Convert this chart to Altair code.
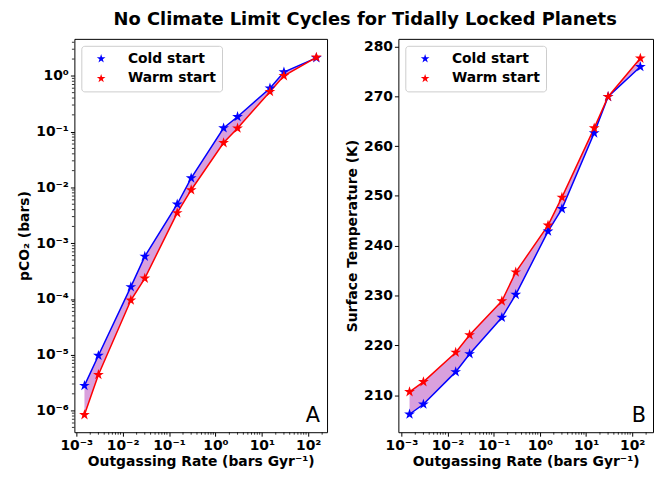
import altair as alt
import pandas as pd

# ---- data ----
rate = [0.0015, 0.003, 0.015, 0.03, 0.15, 0.3, 1.5, 3, 15, 30, 150]
pco2_cold = [2.8e-6, 9.7e-6, 1.65e-4, 5.8e-4, 5.0e-3, 1.47e-2, 0.116, 0.185, 0.60, 1.17, 2.1]
pco2_warm = [8.4e-7, 4.4e-6, 9.5e-5, 2.35e-4, 3.5e-3, 9.0e-3, 0.063, 0.115, 0.52, 1.0, 2.15]
temp_cold = [206.2, 208.2, 214.7, 218.3, 225.6, 230.2, 242.9, 247.4, 262.6, 269.9, 275.9]
temp_warm = [210.7, 212.7, 218.6, 222.1, 228.9, 234.7, 244.1, 249.7, 263.6, 269.9, 277.6]
series_names = ["Cold start", "Warm start"]
series_colors = ["#0000ff", "#ff0000"]

x_ticks = [1e-3, 1e-2, 1e-1, 1e0, 1e1, 1e2]
x_minor = [m * 10.0 ** k for k in range(-3, 3) for m in range(2, 10)]
y_ticks_log = [1e-6, 1e-5, 1e-4, 1e-3, 1e-2, 1e-1, 1e0]
y_minor_log = [m * 10.0 ** k for k in range(-7, 1) for m in range(2, 10)]
t_ticks = [210, 220, 230, 240, 250, 260, 270, 280]

STAR = ("M0,-1L0.2245,-0.309L0.951,-0.309L0.3633,0.118L0.588,0.809L0,0.382"
        "L-0.588,0.809L-0.3633,0.118L-0.951,-0.309L-0.2245,-0.309Z")
SUP = {-6: "⁻⁶", -5: "⁻⁵", -4: "⁻⁴", -3: "⁻³", -2: "⁻²", -1: "⁻¹", 0: "⁰", 1: "¹", 2: "²"}


def pow_expr():
    parts = []
    for e in [-6, -5, -4, -3, -2, -1, 0, 1]:
        thr = "%.6g" % (10.0 ** (e + 0.5))
        parts.append(f"datum.value < {thr} ? '10{SUP[e]}'")
    return " : ".join(parts) + " : '10²'"


LABEL_EXPR = pow_expr()
FRAME_W_L, FRAME_W_R, FRAME_H = 255, 257, 397
FILL = "#d9a0dd"


def panel(cold, warm, xdom, ydom, ytype, yaxis, yminor, letter, width):
    wide = pd.DataFrame({"x": rate, "cold": cold, "warm": warm})
    long = pd.DataFrame({
        "x": rate + rate,
        "y": list(cold) + list(warm),
        "series": [series_names[0]] * len(rate) + [series_names[1]] * len(rate),
    })
    xs = alt.Scale(type="log", domain=xdom, nice=False)
    if ytype == "log":
        ys = alt.Scale(type="log", domain=ydom, nice=False)
    else:
        ys = alt.Scale(type="linear", domain=ydom, nice=False, zero=False)
    area = alt.Chart(wide).mark_area(color=FILL, opacity=1).encode(
        x=alt.X("x:Q", scale=xs, axis=alt.Axis(
            values=x_ticks, labelExpr=LABEL_EXPR, orient="bottom",
            title="Outgassing Rate (bars Gyr⁻¹)", titlePadding=3, labelPadding=2)),
        y=alt.Y("cold:Q", scale=ys, axis=yaxis),
        y2="warm:Q",
    )
    cscale = alt.Scale(domain=series_names, range=series_colors)
    lines = alt.Chart(long).mark_line(strokeWidth=1.5).encode(
        x=alt.X("x:Q"),
        y=alt.Y("y:Q"),
        color=alt.Color("series:N", scale=cscale,
                        legend=alt.Legend(title=None, orient="top-left", symbolType=STAR,
                                          symbolStrokeWidth=0)),
        detail="series:N",
    )
    pts = alt.Chart(long).mark_point(shape=STAR, filled=True, size=130, opacity=1).encode(
        x=alt.X("x:Q"),
        y=alt.Y("y:Q"),
        color=alt.Color("series:N"),
    )
    mx = alt.Chart(pd.DataFrame({"m": [v for v in x_minor if xdom[0] <= v <= xdom[1]]})).mark_rule(
        color="black", strokeWidth=0.8).encode(
        x=alt.X("m:Q"), y=alt.value(FRAME_H), y2=alt.value(FRAME_H + 2.5))
    layers = [area, lines, pts, mx]
    if yminor is not None:
        my = alt.Chart(pd.DataFrame({"m": [v for v in yminor if ydom[0] <= v <= ydom[1]]})).mark_rule(
            color="black", strokeWidth=0.8).encode(
            y=alt.Y("m:Q"), x=alt.value(0), x2=alt.value(-2.5))
        layers.append(my)
    txt = alt.Chart(pd.DataFrame({"t": [letter]})).mark_text(
        align="right", baseline="bottom", fontSize=21, font="DejaVu Sans", color="black"
    ).encode(text="t:N", x=alt.value(width - 7), y=alt.value(FRAME_H - 6))
    layers.append(txt)
    return alt.layer(*layers).properties(width=width, height=FRAME_H)


left = panel(
    pco2_cold, pco2_warm, [9.1e-4, 255], [4.1e-7, 4.6], "log",
    alt.Axis(values=y_ticks_log, labelExpr=LABEL_EXPR, orient="left",
             title="pCO₂ (bars)", titlePadding=4, labelPadding=2),
    y_minor_log, "A", FRAME_W_L,
)
right = panel(
    temp_cold, temp_warm, [8.6e-4, 282], [202.6, 281.5], "linear",
    alt.Axis(values=t_ticks, orient="left", title="Surface Temperature (K)",
             titlePadding=4, labelPadding=2),
    None, "B", FRAME_W_R,
)

chart = alt.hconcat(left, right, spacing=17).resolve_scale(color="independent").properties(
    title=alt.TitleParams("No Climate Limit Cycles for Tidally Locked Planets",
                          fontSize=18, font="DejaVu Sans", fontWeight="bold",
                          anchor="middle", color="black", offset=9, dx=30),
    padding={"left": 9, "top": 1, "right": 0, "bottom": 0},
).configure_view(stroke="black", strokeWidth=1).configure_axis(
    grid=False, domain=False, tickColor="black", tickSize=4, tickWidth=1,
    labelFont="DejaVu Sans", labelFontSize=14, labelFontWeight="bold", labelColor="black",
    titleFont="DejaVu Sans", titleFontSize=14, titleFontWeight="bold", titleColor="black",
    labelOverlap=False, labelFlush=False,
).configure_legend(
    labelFontSize=14, labelFontWeight="bold", labelFont="DejaVu Sans", labelColor="black",
    padding=6, rowPadding=6, fillColor="white", strokeColor="#cccccc", symbolSize=85,
    offset=7, cornerRadius=3, labelOffset=20, symbolOffset=7,
)

chart.save("out.html", embed_options={"renderer": "svg", "actions": False})
